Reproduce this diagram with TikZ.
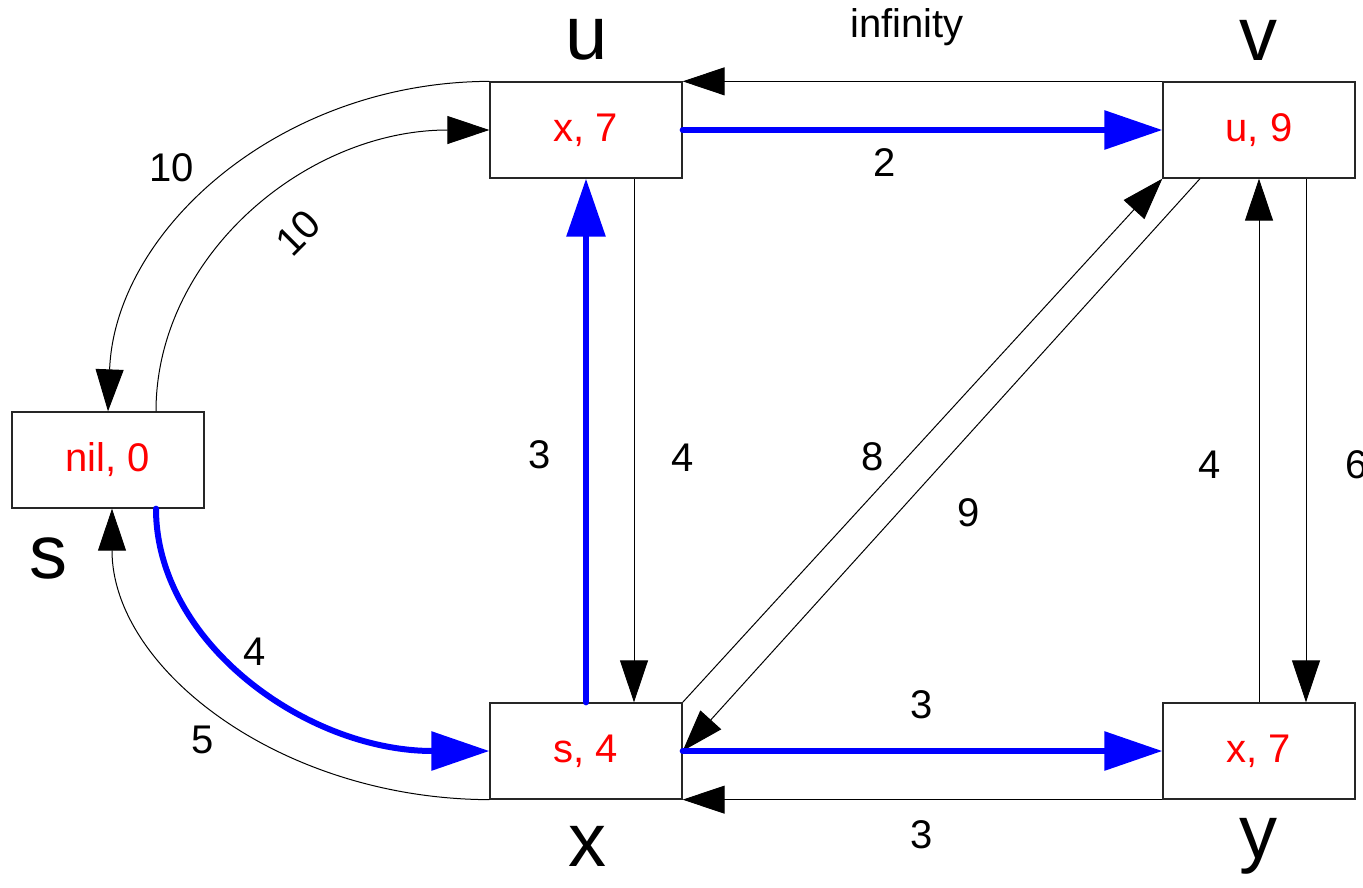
\documentclass[tikz,border=0pt]{standalone}
\usepackage{fontspec}
\setmainfont{Liberation Sans}
\usetikzlibrary{arrows.meta}
\definecolor{pblue}{RGB}{0,0,255}
\definecolor{pred}{RGB}{255,0,0}
\tikzset{
  vbox/.style={draw=black!85, line width=1.3pt, rectangle, minimum width=192pt, minimum height=96pt, inner sep=0pt, text=pred, font=\fontsize{40}{44}\selectfont},
  blk/.style={draw=black, line width=1pt, -{Triangle[length=42pt,width=28pt]}},
  blu/.style={draw=pblue, line width=6pt, line cap=round, -{Triangle[length=58pt,width=38pt]}},
  wlab/.style={font=\fontsize{40}{44}\selectfont, inner sep=0pt},
  vlab/.style={font=\fontsize{76}{80}\selectfont, inner sep=0pt},
}
\begin{document}
\begin{tikzpicture}[x=1pt,y=-1pt]
\useasboundingbox (0,0) rectangle (1363,887);
\node[vbox] (s) at (108,460) {nil, 0};
\node[vbox] (u) at (586,130) {x, 7};
\node[vbox] (v) at (1259,130) {u, 9};
\node[vbox] (x) at (586,751) {s, 4};
\node[vbox] (y) at (1259,751) {x, 7};
% vertex names
\node[vlab] (ln) at (587,40) {u};
\node[vlab] (lv) at (1258,40) {v};
\node[vlab] (ls) at (48,558) {s};
\node[vlab] (lx) at (587,846) {x};
\node[vlab] (ly) at (1258,846) {y};
% edges
\draw[blk] (u.north west) .. controls (280,82) and (115,230) .. (s.north);
\draw[blk] ([xshift=48pt]s.north) .. controls (156,256) and (306,130) .. (u.west);
\draw[blu] ([xshift=48pt]s.south) .. controls (156,642) and (306,751) .. (x.west);
\draw[blk] (x.south west) .. controls (281,799) and (112,669) .. ([xshift=4pt]s.south);
\draw[blk] ([xshift=48pt]u.south) -- ([xshift=48pt]x.north);
\draw[blu] (x.north) -- (u.south);
\draw[blk] (v.north west) -- (u.north east);
\draw[blu] (u.east) -- (v.west);
\draw[blk] (x.north east) -- (v.south west);
\draw[blk] ([xshift=-59pt]v.south) -- (x.east);
\draw[blk] (y.north) -- (v.south);
\draw[blk] ([xshift=47pt]v.south) -- ([xshift=47pt]y.north);
\draw[blu] (x.east) -- (y.west);
\draw[blk] (y.south west) -- (x.south east);
% weights
\node[wlab] (w1) at (172,168) {10};
\node[wlab, rotate=45] (w2) at (298,233) {10};
\node[wlab] (w3) at (255,652) {4};
\node[wlab] (w4) at (203,740) {5};
\node[wlab] (w5) at (540,455) {3};
\node[wlab] (w6) at (683,458) {4};
\node[wlab] (w7) at (873,457) {8};
\node[wlab] (w8) at (969,513) {9};
\node[wlab] (w9) at (1210,465) {4};
\node[wlab] (w10) at (1357,465) {6};
\node[wlab] (w11) at (885,163) {2};
\node[wlab] (w12) at (922,705) {3};
\node[wlab] (w13) at (922,835) {3};
\node[wlab] (w14) at (907,27) {infinity};
\end{tikzpicture}
\end{document}
